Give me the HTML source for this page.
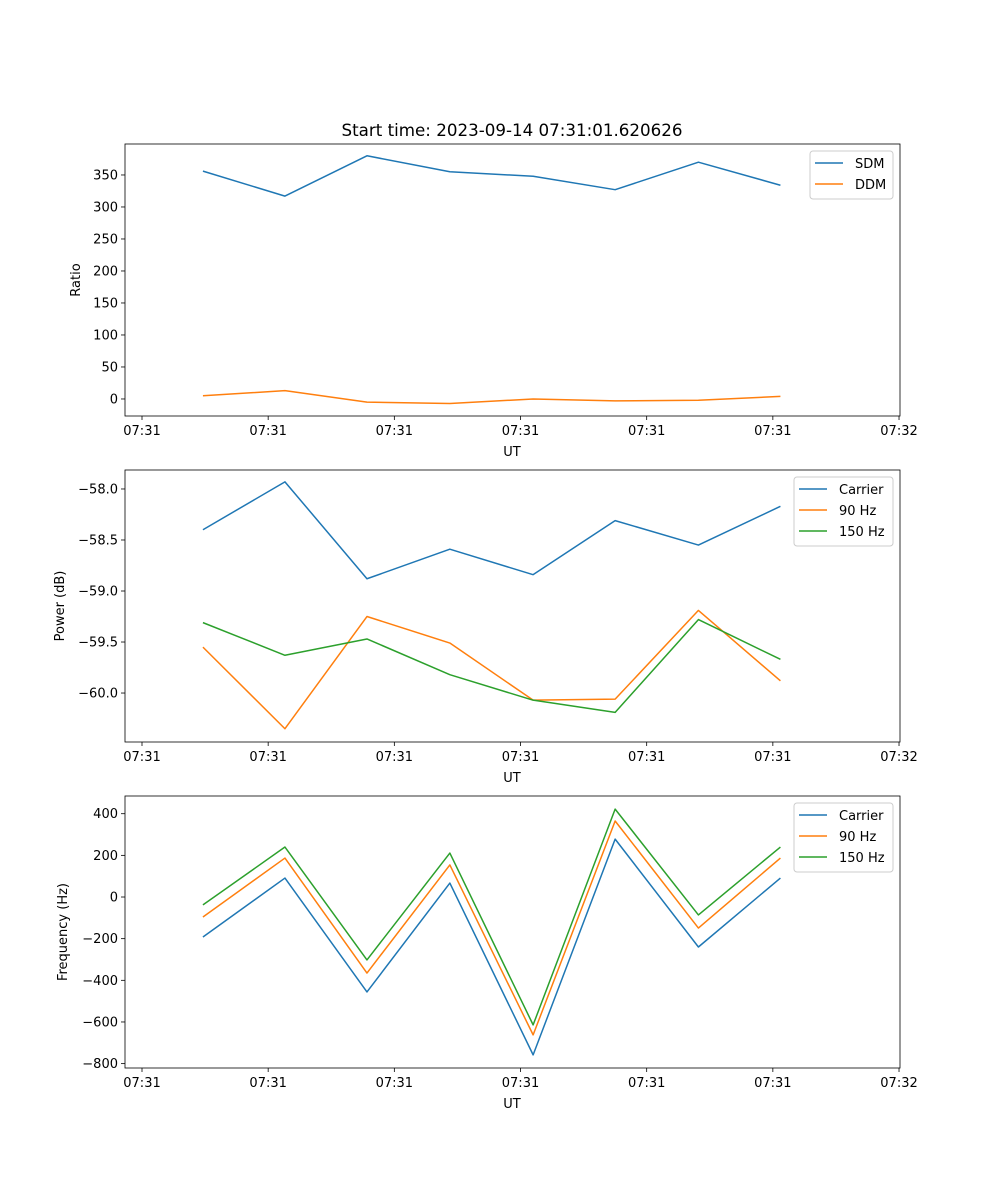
<!DOCTYPE html>
<html><head><meta charset="utf-8"><style>
body{margin:0;background:#fff;}
svg{display:block;font-family:"DejaVu Sans","Liberation Sans",sans-serif;}
</style></head><body>
<svg id="fig" width="1000" height="1200" xmlns="http://www.w3.org/2000/svg">
<text x="512" y="136" font-size="16.7" text-anchor="middle">Start time: 2023-09-14 07:31:01.620626</text>
</svg>
<script>
const xTickLabels=["07:31","07:31","07:31","07:31","07:31","07:31","07:32"];
const xTickVals=[0,1,2,3,4,5,6];
const times=[0.483,1.133,1.783,2.44,3.10,3.75,4.41,5.06];
const sdm=[356,317,380,355,348,327,370,334];
const ddm=[5,13,-5,-7,0,-3,-2,4];
const pCarrier=[-58.40,-57.93,-58.88,-58.59,-58.84,-58.31,-58.55,-58.17];
const p90=[-59.55,-60.35,-59.25,-59.51,-60.07,-60.06,-59.19,-59.88];
const p150=[-59.31,-59.63,-59.47,-59.82,-60.07,-60.19,-59.28,-59.67];
const fCarrier=[-192,91,-456,67,-758,278,-240,91];
const f90=[-96,187,-365,154,-662,365,-149,187];
const f150=[-38,240,-302,211,-614,422,-86,240];
const ratioTicks=[0,50,100,150,200,250,300,350];
const powerTicks=[-60.0,-59.5,-59.0,-58.5,-58.0];
const freqTicks=[-800,-600,-400,-200,0,200,400];

const svg=document.getElementById('fig');
const NS='http://www.w3.org/2000/svg';
function mk(tag,attrs,parent){const e=document.createElementNS(NS,tag);for(const k in attrs)e.setAttribute(k,attrs[k]);(parent||svg).appendChild(e);return e;}
const X0=125,X1=900;
const xs=t=>142+t*126.17;
const C=['#1f77b4','#ff7f0e','#2ca02c'];

function panel(name,top,bot,ymin,ymax,ticks,fmt,ylabel,ylx,series,legend){
  const g=mk('g',{});
  
  
  const ys=v=>bot-(v-ymin)/(ymax-ymin)*(bot-top);
  xTickVals.forEach((t,i)=>{const x=xs(t);
    mk('line',{x1:x,x2:x,y1:bot,y2:bot+4,stroke:'#000','stroke-width':0.8},g);
    const tx=mk('text',{x:x,y:bot+19,'font-size':13,'text-anchor':'middle'},g);tx.textContent=xTickLabels[i];
    
    });
  ticks.forEach(v=>{const y=ys(v);
    mk('line',{x1:X0-4,x2:X0,y1:y,y2:y,stroke:'#000','stroke-width':0.8},g);
    const tx=mk('text',{x:X0-7,y:y+4.5,'font-size':13,'text-anchor':'end'},g);tx.textContent=fmt(v).replace('-','\u2212');
    
    });
  const xl=mk('text',{x:512,y:bot+40,'font-size':13,'text-anchor':'middle'},g);xl.textContent='UT';
  
  
  const mid=(top+bot)/2;
  const yl=mk('text',{x:ylx,y:mid,'font-size':13,'text-anchor':'middle',transform:`rotate(-90 ${ylx} ${mid})`},g);yl.textContent=ylabel;
  
  
  series.forEach((s,i)=>{
    const p=mk('polyline',{points:s.map((v,j)=>xs(times[j])+','+ys(v)).join(' '),fill:'none',stroke:C[i],'stroke-width':1.5,'stroke-linejoin':'round'},g);
    
    
  });
  mk('rect',{x:X0,y:top,width:X1-X0,height:bot-top,fill:'none',stroke:'#000','stroke-width':0.8},g);
  const lg=mk('g',{},g);
  
  
  mk('rect',{x:legend.x,y:top+7,width:X1-7-legend.x,height:legend.names.length*21+6,rx:3,fill:'#fff','fill-opacity':0.8,stroke:'#ccc','stroke-width':1},lg);
  legend.names.forEach((n,i)=>{const y=top+19+i*21;
    mk('line',{x1:legend.x+5,x2:legend.x+33,y1:y,y2:y,stroke:C[i],'stroke-width':1.5},lg);
    const t=mk('text',{x:legend.x+45,y:y+5,'font-size':13},lg);t.textContent=n;
    
    });
}
panel('ratio',144,416,-26.6,398.4,ratioTicks,v=>String(v),'Ratio',80,[sdm,ddm],{x:810,names:['SDM','DDM']});
panel('power',470,742,-60.48,-57.814,powerTicks,v=>v.toFixed(1),'Power (dB)',64,[pCarrier,p90,p150],{x:794,names:['Carrier','90 Hz','150 Hz']});
panel('frequency',796,1068,-821,485,freqTicks,v=>String(v),'Frequency (Hz)',67,[fCarrier,f90,f150],{x:794,names:['Carrier','90 Hz','150 Hz']});
</script>
</body></html>
